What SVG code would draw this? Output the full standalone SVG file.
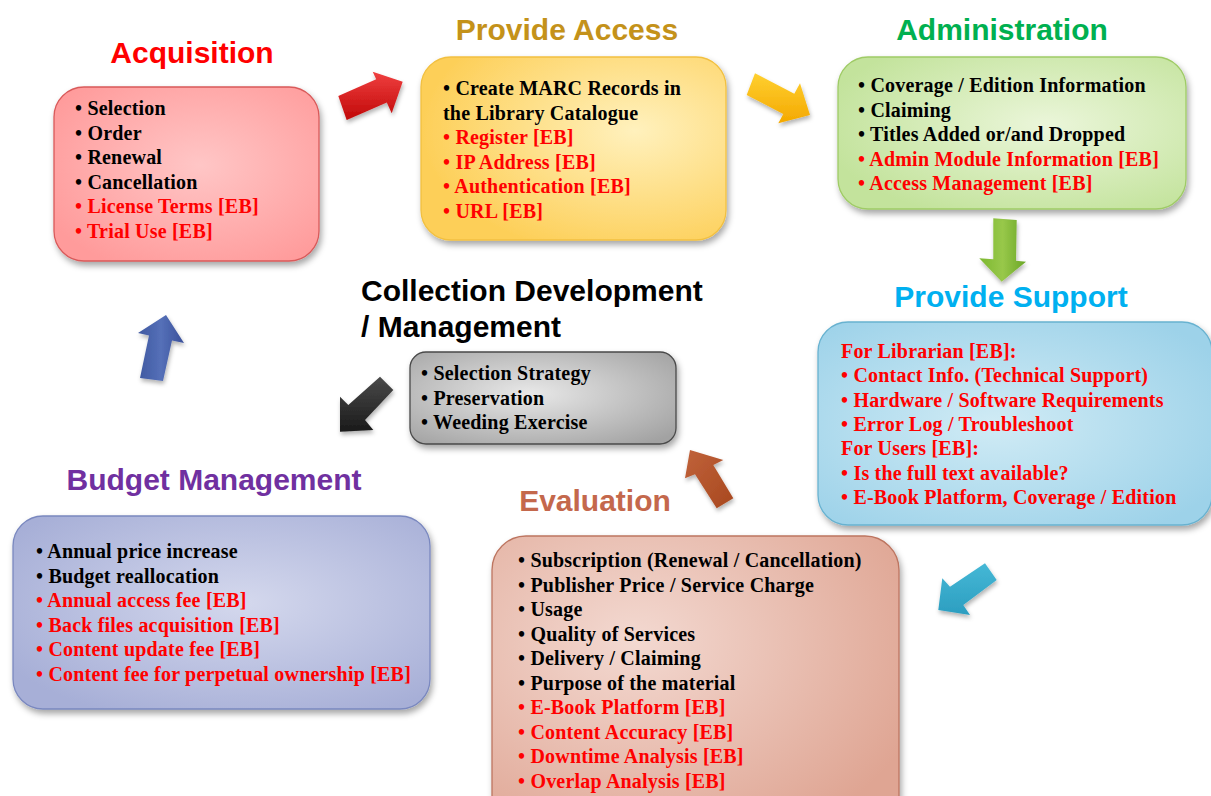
<svg xmlns="http://www.w3.org/2000/svg" width="1211" height="796" viewBox="0 0 1211 796">
<style>
.title{font-family:"Liberation Sans",Arial,sans-serif;font-weight:bold;font-size:30px;text-anchor:middle}
.body{font-family:"Liberation Serif","Times New Roman",serif;font-weight:bold;font-size:20px;fill:#000;letter-spacing:0.2px}
.red{fill:#ff0000}
.box{stroke-width:1.3;filter:url(#sh)}
.arr{filter:url(#ash)}
</style>
<defs>
<filter id="sh" x="-10%" y="-10%" width="125%" height="130%"><feDropShadow dx="2" dy="4" stdDeviation="3" flood-color="#000" flood-opacity="0.35"/></filter>
<filter id="ash" x="-30%" y="-30%" width="160%" height="160%"><feDropShadow dx="1" dy="3" stdDeviation="2" flood-color="#000" flood-opacity="0.3"/></filter>
<radialGradient id="gA" cx="55%" cy="45%" r="65%"><stop offset="0" stop-color="#ffc6c6"/><stop offset="1" stop-color="#ff9b9b"/></radialGradient>
<radialGradient id="gP" cx="70%" cy="40%" r="70%"><stop offset="0" stop-color="#fff1bd"/><stop offset="1" stop-color="#fdcf58"/></radialGradient>
<radialGradient id="gD" cx="60%" cy="45%" r="65%"><stop offset="0" stop-color="#ebf6da"/><stop offset="1" stop-color="#c3e39c"/></radialGradient>
<radialGradient id="gS" cx="45%" cy="50%" r="65%"><stop offset="0" stop-color="#d0ebf5"/><stop offset="1" stop-color="#9dd2e9"/></radialGradient>
<radialGradient id="gC" cx="45%" cy="45%" r="70%"><stop offset="0" stop-color="#e8e8e8"/><stop offset="1" stop-color="#a2a2a2"/></radialGradient>
<radialGradient id="gB" cx="55%" cy="45%" r="65%"><stop offset="0" stop-color="#d4d8ed"/><stop offset="1" stop-color="#a7afd7"/></radialGradient>
<radialGradient id="gE" cx="35%" cy="35%" r="75%"><stop offset="0" stop-color="#f3d9d1"/><stop offset="1" stop-color="#dfa593"/></radialGradient>
<linearGradient id="aR" x1="0" y1="0" x2="0" y2="1"><stop offset="0" stop-color="#f04040"/><stop offset="1" stop-color="#c00808"/></linearGradient>
<linearGradient id="aY" x1="0" y1="0" x2="0" y2="1"><stop offset="0" stop-color="#ffd030"/><stop offset="1" stop-color="#f4a800"/></linearGradient>
<linearGradient id="aG" x1="0" y1="0" x2="1" y2="0"><stop offset="0" stop-color="#7cb830"/><stop offset="0.5" stop-color="#98c84a"/><stop offset="1" stop-color="#6aa626"/></linearGradient>
<linearGradient id="aC" x1="0" y1="0" x2="0" y2="1"><stop offset="0" stop-color="#45b8d6"/><stop offset="1" stop-color="#2c9ec0"/></linearGradient>
<linearGradient id="aK" x1="0" y1="0" x2="0" y2="1"><stop offset="0" stop-color="#4a4a4a"/><stop offset="1" stop-color="#1a1a1a"/></linearGradient>
<linearGradient id="aO" x1="0" y1="0" x2="1" y2="1"><stop offset="0" stop-color="#c0623a"/><stop offset="1" stop-color="#a8481f"/></linearGradient>
<linearGradient id="aB" x1="0" y1="0" x2="1" y2="0"><stop offset="0" stop-color="#3f58a0"/><stop offset="0.5" stop-color="#5570b8"/><stop offset="1" stop-color="#3a509a"/></linearGradient>
</defs>
<rect width="1211" height="796" fill="#ffffff"/>

<g id="connectors">
<polygon class="arr" fill="url(#aR)" points="402.7,81.7 391.7,113.3 386.8,102.5 346.7,120 338.3,96 376.2,79.3 372.7,71.7"/>
<polygon class="arr" fill="url(#aY)" points="810,115 778.3,123.3 783.3,114 746.7,95 755,73.3 794.3,93.7 800,83.3"/>
<polygon class="arr" fill="url(#aG)" points="993.3,218.3 1016.7,220 1016,260.7 1026,261.7 1001.7,281.7 979.3,258.3 993.3,259.3"/>
<polygon class="arr" fill="url(#aC)" points="938.3,610 942.3,578.3 950,586.7 985,563.3 996.7,580 963.3,605 970,615"/>
<polygon class="arr" fill="url(#aO)" points="690,450 723.3,460 713.3,465 733.3,498.3 716.7,508.3 695,474.3 685,478.3"/>
<polygon class="arr" fill="url(#aK)" points="340,431.7 340,396.7 348.3,405 380,376.7 393.3,390 365,420 373.3,430"/>
<polygon class="arr" fill="url(#aB)" points="166,315 184,343 172,340.4 163,381 140,378 149,335.4 138,333"/>
</g>

<g id="acquisition">
<text class="title" x="192" y="63" fill="#ff0000">Acquisition</text>
<rect class="box" x="54" y="87" width="265" height="174" rx="30" fill="url(#gA)" stroke="#d95a5a"/>
<text class="body" x="75" y="115">• Selection</text>
<text class="body" x="75" y="139.5">• Order</text>
<text class="body" x="75" y="164">• Renewal</text>
<text class="body" x="75" y="188.5">• Cancellation</text>
<text class="body red" x="75" y="213">• License Terms [EB]</text>
<text class="body red" x="75" y="237.5">• Trial Use [EB]</text>
</g>

<g id="provide-access">
<text class="title" x="567" y="40" fill="#c4921a">Provide Access</text>
<rect class="box" x="421" y="57" width="305" height="183" rx="30" fill="url(#gP)" stroke="#f2c040"/>
<text class="body" x="443" y="95">• Create MARC Records in</text>
<text class="body" x="443" y="119.5">the Library Catalogue</text>
<text class="body red" x="443" y="144">• Register [EB]</text>
<text class="body red" x="443" y="168.5">• IP Address [EB]</text>
<text class="body red" x="443" y="193">• Authentication [EB]</text>
<text class="body red" x="443" y="217.5">• URL [EB]</text>
</g>

<g id="administration">
<text class="title" x="1002" y="40" fill="#00b050">Administration</text>
<rect class="box" x="838" y="57" width="348" height="152" rx="30" fill="url(#gD)" stroke="#9fcb66"/>
<text class="body" x="858" y="92">• Coverage / Edition  Information</text>
<text class="body" x="858" y="116.5">• Claiming</text>
<text class="body" x="858" y="141">• Titles Added or/and Dropped</text>
<text class="body red" x="858" y="165.5">• Admin Module Information [EB]</text>
<text class="body red" x="858" y="190">• Access Management [EB]</text>
</g>

<g id="provide-support">
<text class="title" x="1011" y="307" fill="#00b0f0">Provide Support</text>
<rect class="box" x="818" y="322" width="394" height="203" rx="30" fill="url(#gS)" stroke="#68b2d0"/>
<text class="body red" x="841" y="358">For Librarian [EB]:</text>
<text class="body red" x="841" y="382">• Contact Info. (Technical Support)</text>
<text class="body red" x="841" y="406.5">• Hardware / Software Requirements</text>
<text class="body red" x="841" y="431">• Error Log / Troubleshoot</text>
<text class="body red" x="841" y="455">For Users [EB]:</text>
<text class="body red" x="841" y="479.5">• Is the full text available?</text>
<text class="body red" x="841" y="503.5">• E-Book Platform, Coverage / Edition</text>
</g>

<g id="collection">
<text x="361" y="301" font-family="Liberation Sans,Arial,sans-serif" font-weight="bold" font-size="30" fill="#000">Collection Development</text>
<text x="361" y="337" font-family="Liberation Sans,Arial,sans-serif" font-weight="bold" font-size="30" fill="#000">/ Management</text>
<rect class="box" x="410" y="352" width="266" height="92" rx="16" fill="url(#gC)" stroke="#4a4a4a"/>
<text class="body" x="421" y="380">• Selection Strategy</text>
<text class="body" x="421" y="404.5">• Preservation</text>
<text class="body" x="421" y="429">• Weeding Exercise</text>
</g>

<g id="budget">
<text class="title" x="214" y="490" fill="#7030a0">Budget Management</text>
<rect class="box" x="13" y="516" width="417" height="193" rx="30" fill="url(#gB)" stroke="#7a88bf"/>
<text class="body" x="36" y="558">• Annual price increase</text>
<text class="body" x="36" y="582.5">• Budget reallocation</text>
<text class="body red" x="36" y="607">• Annual access fee [EB]</text>
<text class="body red" x="36" y="631.5">• Back files acquisition [EB]</text>
<text class="body red" x="36" y="656">• Content update fee [EB]</text>
<text class="body red" x="36" y="680.5">• Content fee for perpetual ownership [EB]</text>
</g>

<g id="evaluation">
<text class="title" x="595" y="511" fill="#c4684c">Evaluation</text>
<rect class="box" x="492" y="536" width="407" height="300" rx="34" fill="url(#gE)" stroke="#bd7560"/>
<text class="body" x="518" y="567">• Subscription (Renewal / Cancellation)</text>
<text class="body" x="518" y="591.5">• Publisher Price  / Service Charge</text>
<text class="body" x="518" y="616">• Usage</text>
<text class="body" x="518" y="640.5">• Quality of Services</text>
<text class="body" x="518" y="665">• Delivery / Claiming</text>
<text class="body" x="518" y="689.5">• Purpose of the material</text>
<text class="body red" x="518" y="714">• E-Book Platform [EB]</text>
<text class="body red" x="518" y="738.5">• Content Accuracy [EB]</text>
<text class="body red" x="518" y="763">• Downtime Analysis [EB]</text>
<text class="body red" x="518" y="787.5">• Overlap Analysis [EB]</text>
</g>
</svg>
